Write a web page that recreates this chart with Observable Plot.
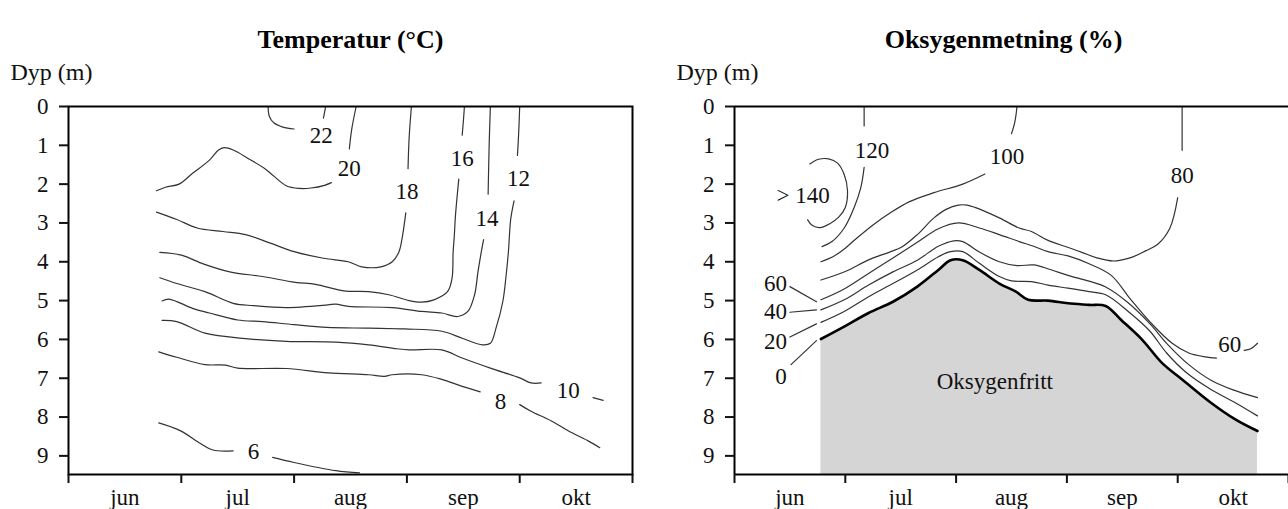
<!DOCTYPE html>
<html><head><meta charset="utf-8">
<script src="https://cdn.jsdelivr.net/npm/d3@7"></script>
<script src="https://cdn.jsdelivr.net/npm/@observablehq/plot@0.6"></script>
<style>
body{margin:0;background:#fff;}
#wrap{position:relative;width:1288px;height:509px;overflow:hidden;background:#fff;}
#left,#right{position:absolute;top:0;}
#left{left:0;} #right{left:644px;}
#wrap svg, #wrap svg text{font-family:'Liberation Serif','Times New Roman',serif !important;}
</style></head>
<body><div id="wrap"><div id="left"></div><div id="right"></div></div>
<script>
// x = months since 1 June (0 = 1 jun, 5 = 1 nov); y = depth in metres
const months = ["jun", "jul", "aug", "sep", "okt"];
const monthEdges = [0, 1, 2, 3, 4, 5];
const monthMids = [0.5, 1.5, 2.5, 3.5, 4.5];
const depthTicks = [0, 1, 2, 3, 4, 5, 6, 7, 8, 9];
const depthMax = 9.48;

// ---- Temperature isolines (°C) ----
const t22a = [[1.77,0],[1.78,0.25],[1.82,0.42],[1.9,0.53],[2.0,0.58]];
const t22b = [[2.26,0.3],[2.27,0.15],[2.28,0]];
const t20a = [[0.78,2.17],[0.86,2.08],[0.98,2.0],[1.1,1.72],[1.25,1.38],[1.33,1.12],[1.38,1.06],[1.46,1.12],[1.6,1.35],[1.75,1.62],[1.93,2.04],[2.05,2.11],[2.15,2.1],[2.27,2.03],[2.33,1.96]];
const t20b = [[2.49,1.09],[2.51,0.6],[2.55,0]];
const t18a = [[3.04,0],[3.02,0.8],[3.01,1.6]];
const t18b = [[0.78,2.72],[0.96,2.91],[1.14,3.13],[1.37,3.22],[1.57,3.3],[1.79,3.52],[2.0,3.74],[2.26,3.91],[2.48,4.0],[2.6,4.13],[2.77,4.13],[2.87,4.0],[2.93,3.74],[2.96,3.35],[2.99,2.74]];
const t16a = [[0.81,3.76],[1.0,3.83],[1.2,4.06],[1.43,4.26],[1.72,4.38],[2.01,4.53],[2.19,4.58],[2.44,4.75],[2.66,4.77],[2.84,4.85],[3.02,5.0],[3.13,5.04],[3.24,4.98],[3.36,4.77],[3.40,4.43],[3.41,3.74],[3.42,3.35],[3.43,2.83],[3.46,1.87]];
const t16b = [[3.49,0.74],[3.5,0.4],[3.51,0]];
const t14a = [[0.81,4.41],[0.96,4.56],[1.21,4.77],[1.46,5.07],[1.64,5.13],[1.93,5.18],[2.3,5.11],[2.37,5.09],[2.48,5.15],[2.87,5.18],[3.13,5.28],[3.31,5.32],[3.45,5.41],[3.54,5.28],[3.6,4.85],[3.63,4.26],[3.66,3.74],[3.68,3.43]];
const t14b = [[3.72,2.26],[3.73,0.91],[3.74,0]];
const t12a = [[0.83,5.01],[0.89,4.96],[1.1,5.2],[1.25,5.32],[1.5,5.5],[1.72,5.54],[2.0,5.62],[2.29,5.69],[2.66,5.71],[2.98,5.73],[3.31,5.79],[3.49,5.97],[3.67,6.14],[3.74,6.1],[3.79,5.71],[3.85,5.03],[3.88,4.34],[3.9,3.74],[3.92,2.91],[3.95,2.43]];
const t12b = [[3.98,1.26],[3.99,0.74],[4.0,0]];
const t10a = [[0.83,5.51],[0.96,5.54],[1.21,5.84],[1.57,5.98],[1.93,6.05],[2.37,6.07],[2.66,6.14],[2.91,6.24],[3.02,6.27],[3.31,6.27],[3.49,6.48],[3.74,6.74],[4.0,6.99],[4.1,7.12],[4.19,7.12]];
const t10b = [[4.65,7.5],[4.74,7.57]];
const t8a = [[0.8,6.32],[0.96,6.46],[1.21,6.65],[1.39,6.66],[1.5,6.74],[1.93,6.75],[2.3,6.86],[2.66,6.91],[2.8,6.95],[2.87,6.91],[3.13,6.91],[3.31,7.03],[3.49,7.21],[3.65,7.35]];
const t8b = [[4.0,7.68],[4.1,7.85],[4.28,8.1],[4.46,8.4],[4.61,8.62],[4.71,8.79]];
const t6a = [[0.8,8.15],[0.99,8.35],[1.17,8.68],[1.28,8.85],[1.46,8.87]];
const t6b = [[1.81,9.04],[2.0,9.17],[2.37,9.38],[2.58,9.44]];
const tempLabelText = ["22","20","18","16","14","12","10","8","6"];
const tempLabelX = [2.24, 2.49, 3.0, 3.49, 3.71, 3.99, 4.43, 3.83, 1.64];
const tempLabelY = [0.74, 1.6, 2.2, 1.35, 2.9, 1.87, 7.33, 7.59, 8.9];

// ---- Oxygen saturation isolines (%) ----
const o0 = [[0.78,5.99],[0.99,5.67],[1.21,5.32],[1.43,5.03],[1.65,4.64],[1.84,4.21],[1.95,3.96],[2.06,3.96],[2.21,4.21],[2.39,4.56],[2.54,4.77],[2.65,4.98],[2.83,5.0],[3.01,5.07],[3.2,5.11],[3.35,5.14],[3.49,5.5],[3.68,6.01],[3.86,6.61],[4.04,7.03],[4.3,7.63],[4.52,8.06],[4.72,8.36]];
const o20 = [[0.78,5.56],[0.99,5.28],[1.21,4.9],[1.43,4.56],[1.65,4.21],[1.84,3.87],[1.95,3.74],[2.06,3.74],[2.21,4.04],[2.39,4.38],[2.5,4.49],[2.68,4.51],[2.83,4.6],[3.01,4.68],[3.2,4.77],[3.35,4.85],[3.57,5.32],[3.75,5.79],[3.9,6.35],[4.08,6.86],[4.3,7.29],[4.52,7.63],[4.72,7.97]];
const o40 = [[0.78,5.24],[0.99,4.98],[1.21,4.6],[1.43,4.26],[1.65,3.96],[1.84,3.6],[1.98,3.46],[2.06,3.48],[2.21,3.75],[2.39,4.0],[2.55,4.1],[2.7,4.08],[2.85,4.2],[3.01,4.35],[3.2,4.5],[3.35,4.65],[3.55,5.05],[3.75,5.6],[3.9,6.1],[4.1,6.65],[4.3,7.05],[4.5,7.3],[4.72,7.5]];
const o60a = [[0.78,4.98],[0.99,4.7],[1.21,4.3],[1.43,3.9],[1.65,3.5],[1.84,3.15],[2.02,3.0],[2.21,3.13],[2.39,3.3],[2.57,3.48],[2.7,3.6],[2.83,3.74],[3.01,3.85],[3.2,4.05],[3.4,4.35],[3.57,4.95],[3.75,5.55],[3.95,6.1],[4.1,6.35],[4.25,6.45],[4.35,6.48]];
const o60b = [[4.6,6.28],[4.66,6.24],[4.72,6.1]];
const o80a = [[0.78,4.47],[1.0,4.25],[1.21,3.95],[1.4,3.75],[1.51,3.62],[1.65,3.3],[1.8,2.87],[1.91,2.65],[2.02,2.54],[2.1,2.54],[2.17,2.6],[2.39,2.87],[2.57,3.13],[2.68,3.22],[2.83,3.45],[3.0,3.62],[3.13,3.75],[3.27,3.9],[3.42,3.98],[3.57,3.9],[3.71,3.72],[3.82,3.55],[3.93,3.13],[4.0,2.35]];
const o80b = [[4.04,1.13],[4.04,0.5],[4.04,0]];
const o100a = [[0.78,4.0],[0.9,3.85],[1.0,3.65],[1.1,3.4],[1.25,3.05],[1.4,2.75],[1.58,2.45],[1.8,2.22],[2.06,2.0],[2.26,1.74]];
const o100b = [[2.5,0.7],[2.53,0.4],[2.55,0]];
const o120a = [[1.17,0],[1.17,0.5]];
const o120b = [[1.17,1.57],[1.14,2.09],[1.08,2.6],[0.99,3.13],[0.88,3.48],[0.79,3.61]];
const o140 = [[0.68,1.48],[0.76,1.36],[0.85,1.35],[0.93,1.46],[0.99,1.75],[1.02,2.17],[1.0,2.6],[0.94,2.85],[0.86,3.02],[0.77,3.12],[0.7,3.06],[0.66,2.92]];
const lead60 = [[0.5,4.64],[0.74,5.03]];
const lead40 = [[0.5,5.3],[0.74,5.24]];
const lead20 = [[0.5,5.94],[0.74,5.6]];
const lead0 = [[0.51,6.65],[0.74,6.03]];
const oxyLabelText = ["120","100","80","> 140","60","40","20","0","60","Oksygenfritt"];
const oxyLabelX = [1.24, 2.46, 4.04, 0.62, 0.37, 0.37, 0.37, 0.42, 4.47, 2.35];
const oxyLabelY = [1.13, 1.3, 1.78, 2.3, 4.56, 5.28, 6.05, 6.95, 6.13, 7.08];

// ---- helpers ----
const rows = (groups) => groups.flatMap(([id, pts]) => pts.map(([m, d]) => ({id, m, d})));
const labels = (t, xs, ys) => t.map((s, i) => ({s, m: xs[i], d: ys[i]}));

const tempRows = rows([["22a",t22a],["22b",t22b],["20a",t20a],["20b",t20b],["18a",t18a],["18b",t18b],["16a",t16a],["16b",t16b],["14a",t14a],["14b",t14b],["12a",t12a],["12b",t12b],["10a",t10a],["10b",t10b],["8a",t8a],["8b",t8b],["6a",t6a],["6b",t6b]]);
const oxyRows = rows([["20",o20],["40",o40],["60a",o60a],["60b",o60b],["80a",o80a],["80b",o80b],["100a",o100a],["100b",o100b],["120a",o120a],["120b",o120b],["140",o140],["l60",lead60],["l40",lead40],["l20",lead20],["l0",lead0]]);
const zeroRows = rows([["0",o0]]);

const font = "'Liberation Serif','Times New Roman',serif";
const common = {
  width: 644, height: 509, marginTop: 106, marginBottom: 35,
  x: {domain: [0, 5]},
  y: {domain: [0, depthMax], reverse: true},
  style: {fontFamily: font, fontSize: "23px", color: "#111", background: "white", overflow: "visible"}
};
const axes = () => [
  Plot.axisY(depthTicks, {tickSize: 9, tickPadding: 11, strokeWidth: 2, label: null, fontSize: 23, fontFamily: font}),
  Plot.axisX(monthEdges, {tickSize: 9, strokeWidth: 2, tickFormat: () => "", label: null}),
  Plot.axisX(monthMids, {tickSize: 0, tickPadding: 14, tickFormat: d => months[Math.floor(d)], label: null, fontSize: 23, fontFamily: font})
];

const left = Plot.plot({
  ...common, marginLeft: 68, marginRight: 12,
  marks: [
    Plot.line(tempRows, {x: "m", y: "d", z: "id", stroke: "#333", strokeWidth: 1.2, curve: "catmull-rom"}),
    Plot.text(labels(tempLabelText, tempLabelX, tempLabelY), {x: "m", y: "d", text: "s", fontSize: 23, fontFamily: font, fill: "#111"}),
    Plot.frame({stroke: "#000", strokeWidth: 2}),
    ...axes(),
    Plot.text(["Temperatur (°C)"], {frameAnchor: "top", dy: -77, fontWeight: "bold", fontSize: 26, fontFamily: font, fill: "#000"}),
    Plot.text(["Dyp (m)"], {frameAnchor: "top-left", dx: -58, dy: -44, textAnchor: "start", fontSize: 24, fontFamily: font, fill: "#111"})
  ]
});

const right = Plot.plot({
  ...common, marginLeft: 90, marginRight: 0,
  marks: [
    Plot.areaY(zeroRows, {x: "m", y1: depthMax, y2: "d", fill: "#d5d5d5", curve: "catmull-rom"}),
    Plot.line(oxyRows, {x: "m", y: "d", z: "id", stroke: "#333", strokeWidth: 1.2, curve: "catmull-rom"}),
    Plot.line(zeroRows, {x: "m", y: "d", stroke: "#000", strokeWidth: 2.6, curve: "catmull-rom"}),
    Plot.text(labels(oxyLabelText, oxyLabelX, oxyLabelY), {x: "m", y: "d", text: "s", fontSize: 23, fontFamily: font, fill: "#111"}),
    Plot.ruleY([0, depthMax], {stroke: "#000", strokeWidth: 2}),
    Plot.ruleX([0], {stroke: "#000", strokeWidth: 2}),
    ...axes(),
    Plot.text(["Oksygenmetning (%)"], {frameAnchor: "top", dx: -8, dy: -77, fontWeight: "bold", fontSize: 26, fontFamily: font, fill: "#000"}),
    Plot.text(["Dyp (m)"], {frameAnchor: "top-left", dx: -58, dy: -44, textAnchor: "start", fontSize: 24, fontFamily: font, fill: "#111"})
  ]
});

document.getElementById("left").appendChild(left);
document.getElementById("right").appendChild(right);
</script>
</body></html>
